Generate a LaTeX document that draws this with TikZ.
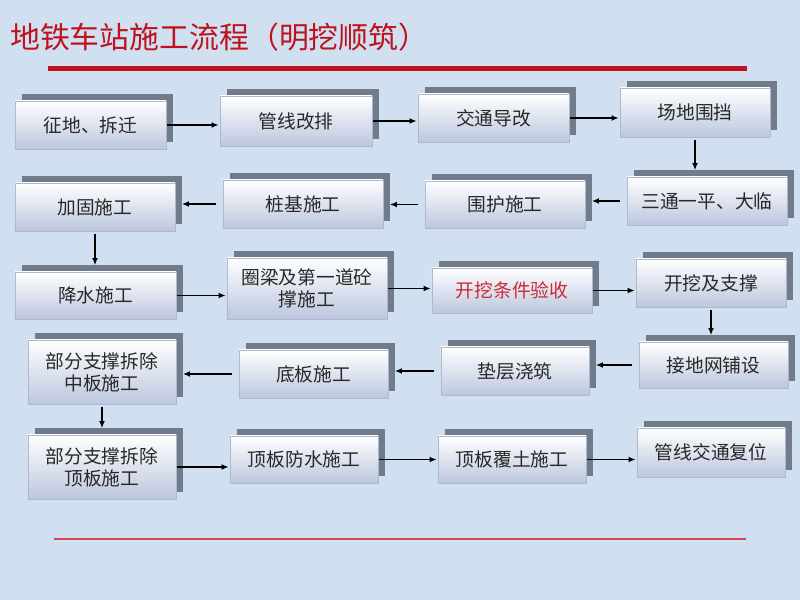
\documentclass[tikz,border=0pt]{standalone}
\usepackage{fontspec}
\setmainfont{Noto Sans CJK SC}
\usetikzlibrary{positioning,shadows,arrows.meta}
\definecolor{bgblue}{RGB}{208,224,241}
\definecolor{titlered}{RGB}{190,18,30}
\definecolor{linkred}{RGB}{205,40,52}
\definecolor{rulered}{RGB}{215,70,80}
\definecolor{shadowgray}{RGB}{112,124,140}
\definecolor{boxbottom}{RGB}{188,198,222}
\definecolor{boxedge}{RGB}{175,185,202}
\definecolor{boxtext}{RGB}{40,40,40}
\tikzset{
stepnode/.style={
draw=boxedge,
top color=white, bottom color=boxbottom,
text=boxtext, align=center, inner sep=1pt,
minimum width=4.5cm, minimum height=1.44cm,
general shadow={shadow xshift=0.21cm, shadow yshift=0.21cm, fill=shadowgray}},
line/.style={-{Latex[length=6pt,width=5pt]}, line width=1.1pt, shorten <=1pt, shorten >=1pt},
lineback/.style={line, shorten <=0.2cm, shorten >=0.2cm},
linedown/.style={line, shorten <=2pt, shorten >=0.2cm},
font={\fontsize{16pt}{19pt}\selectfont}
}

\begin{document}
\begin{tikzpicture}[x=0.03cm, y=-0.03cm]
  \fill[bgblue] (0,0) rectangle (800,600);
  \node[anchor=west, inner sep=0pt, text=titlered, font={\fontsize{25.5pt}{30pt}\selectfont}] (title) at (10,37) {地铁车站施工流程（明挖顺筑）};
  \draw[titlered, line width=0.15cm] (48,69) -- (747,69);
  \draw[rulered, line width=1pt] (54,539) -- (746,539);
  % first row
  \node[stepnode, minimum width=4.53cm] (zhengdi) at (90.5,125) {征地、拆迁};
  \node[stepnode, minimum width=4.56cm, minimum height=1.5cm] (guanxian) at (296,121) {管线改排};
  \node[stepnode, minimum width=4.53cm] (jiaotong) at (493.5,118) {交通导改};
  \node[stepnode, minimum height=1.47cm] (weidang) at (695,112.5) {场地围挡};
  % second row
  \node[stepnode, minimum width=4.8cm] (santong) at (707,201) {三通一平、大临};
  \node[stepnode, minimum width=4.8cm, minimum height=1.41cm] (weihu) at (505,204.5) {围护施工};
  \node[stepnode, minimum width=4.8cm] (zhuangji) at (303,204) {桩基施工};
  \node[stepnode, minimum width=4.8cm] (jiagu) at (95,207) {加固施工};
  % third row
  \node[stepnode, minimum width=4.83cm, minimum height=1.41cm] (jiangshui) at (95.5,295.5) {降水施工};
  \node[stepnode, minimum width=4.8cm, minimum height=1.83cm] (quanliang) at (307,288.5) {圈梁及第一道砼\\撑施工};
  \node[stepnode, minimum width=4.8cm, minimum height=1.35cm, text=linkred] (yanshou) at (512,290.5) {开挖条件验收};
  \node[stepnode] (kaiwa) at (711,283) {开挖及支撑};
  % fourth row
  \node[stepnode, minimum width=4.47cm, minimum height=1.38cm] (jiedi) at (713.5,365) {接地网铺设};
  \node[stepnode, minimum width=4.44cm] (dianceng) at (515,371) {垫层浇筑};
  \node[stepnode, minimum width=4.47cm] (diban) at (313.5,374) {底板施工};
  \node[stepnode, minimum width=4.44cm, minimum height=1.92cm] (zhongban) at (102,372) {部分支撑拆除\\中板施工};
  % fifth row
  \node[stepnode, minimum width=4.44cm, minimum height=1.92cm] (dingban) at (102,467) {部分支撑拆除\\顶板施工};
  \node[stepnode, minimum width=4.44cm, minimum height=1.41cm] (fangshui) at (304,459.5) {顶板防水施工};
  \node[stepnode, minimum width=4.44cm, minimum height=1.41cm] (futu) at (512,459.5) {顶板覆土施工};
  \node[stepnode, minimum width=4.44cm, minimum height=1.47cm] (fuwei) at (711,452.5) {管线交通复位};
  % connectors
  \draw[line] (zhengdi) -- (zhengdi -| guanxian.west);
  \draw[line] (guanxian) -- (guanxian -| jiaotong.west);
  \draw[line] (jiaotong) -- (jiaotong -| weidang.west);
  \draw[linedown] (weidang) -- (weidang |- santong.north);
  \draw[lineback] (santong) -- (santong -| weihu.east);
  \draw[lineback] (weihu) -- (weihu -| zhuangji.east);
  \draw[lineback] (zhuangji) -- (zhuangji -| jiagu.east);
  \draw[linedown] (jiagu) -- (jiagu |- jiangshui.north);
  \draw[line] (jiangshui) -- (jiangshui -| quanliang.west);
  \draw[line] (quanliang) -- (quanliang -| yanshou.west);
  \draw[line] (yanshou) -- (yanshou -| kaiwa.west);
  \draw[linedown] (kaiwa) -- (kaiwa |- jiedi.north);
  \draw[lineback] (jiedi) -- (jiedi -| dianceng.east);
  \draw[lineback] (dianceng) -- (dianceng -| diban.east);
  \draw[lineback] (diban) -- (diban -| zhongban.east);
  \draw[linedown] (zhongban) -- (zhongban |- dingban.north);
  \draw[line] (dingban) -- (dingban -| fangshui.west);
  \draw[line] (fangshui) -- (fangshui -| futu.west);
  \draw[line] (futu) -- (futu -| fuwei.west);
\end{tikzpicture}
\end{document}
